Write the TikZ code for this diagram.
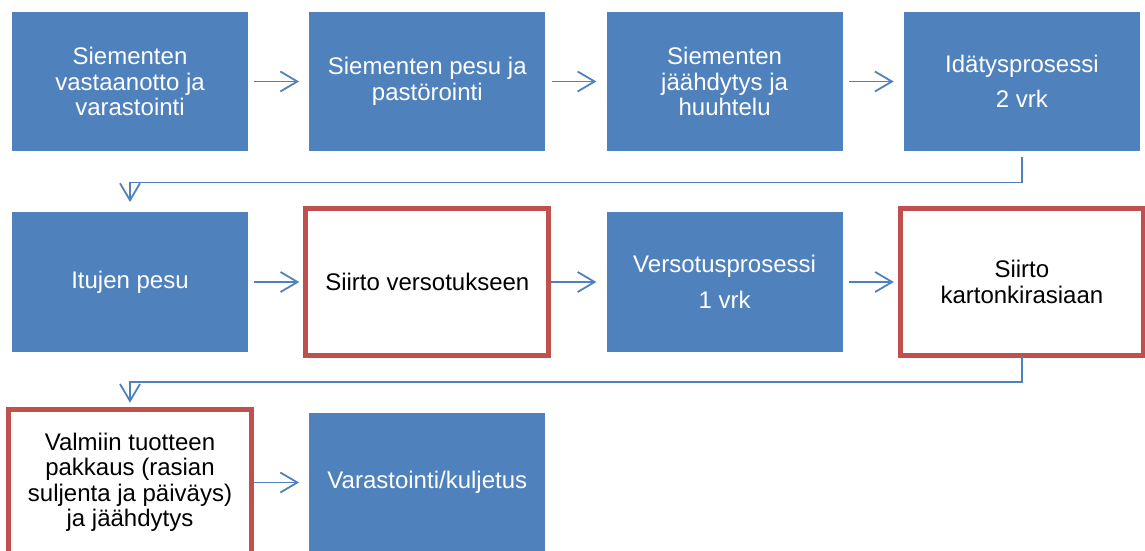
\documentclass[tikz,border=0pt]{standalone}
\usepackage{fontspec}
\setmainfont{Liberation Sans}
\usetikzlibrary{arrows.meta}
\definecolor{boxblue}{HTML}{4F81BD}
\definecolor{boxred}{HTML}{C0504D}
\tikzset{
  stepblue/.style = {rectangle, fill=boxblue, text=white, align=center,
                     minimum width=236pt, minimum height=139.5pt,
                     inner sep=0pt, font=\fontsize{24}{25.5}\selectfont},
  stepred/.style  = {rectangle, fill=white, draw=boxred, line width=5pt,
                     text=black, align=center, outer sep=-3.5pt,
                     minimum width=243pt, minimum height=146.5pt,
                     inner sep=0pt, font=\fontsize{24}{25.5}\selectfont},
  flow/.style     = {draw=boxblue, line width=1.8pt,
                     -{Straight Barb[length=17pt, width=20pt]},
                     shorten <=6pt, shorten >=10pt}
}

\begin{document}
\begin{tikzpicture}[x=1pt, y=-1pt]
	\def \pitch{297.3}
	\def \rowh{200.5}
	\useasboundingbox (0,0) rectangle (1145,551);
	\clip (0,0) rectangle (1145,551);
	
	% Row 1
	\node[stepblue] (s1) at (130,           81.5) {Siementen\\vastaanotto ja\\varastointi};
	\node[stepblue] (s2) at (130+\pitch,    81.5) {Siementen pesu ja\\pastörointi};
	\node[stepblue] (s3) at (130+2*\pitch,  81.5) {Siementen\\jäähdytys ja\\huuhtelu};
	\node[stepblue] (s4) at (130+3*\pitch,  81.5) {Idätysprosessi\\[10pt]2 vrk};
	
	% Row 2
	\node[stepblue] (s5) at (130,           81.5+\rowh) {Itujen pesu};
	\node[stepred]  (s6) at (130+\pitch,    81.5+\rowh) {Siirto versotukseen};
	\node[stepblue] (s7) at (130+2*\pitch,  81.5+\rowh) {Versotusprosessi\\[10pt]1 vrk};
	\node[stepred]  (s8) at (130+3*\pitch,  81.5+\rowh) {Siirto\\kartonkirasiaan};
	
	% Row 3
	\node[stepred]  (s9)  at (130,          81.5+2*\rowh) {Valmiin tuotteen\\pakkaus (rasian\\suljenta ja päiväys)\\ja jäähdytys};
	\node[stepblue] (s10) at (130+\pitch,   81.5+2*\rowh) {Varastointi/kuljetus};
	
	% Arrows
	\draw[flow] (s1.east) -- (s2.west);
	\draw[flow] (s2.east) -- (s3.west);
	\draw[flow] (s3.east) -- (s4.west);
	\draw[flow] (s4.south) -- ++(0,31) -| (s5.north);
	\draw[flow] (s5.east) -- (s6.west);
	\draw[flow] (s6.east) -- (s7.west);
	\draw[flow] (s7.east) -- (s8.west);
	\draw[flow, shorten <=4pt] (s8.south) -- ++(0,30.5) -| (s9.north);
	\draw[flow] (s9.east) -- (s10.west);
	
\end{tikzpicture}
\end{document}
